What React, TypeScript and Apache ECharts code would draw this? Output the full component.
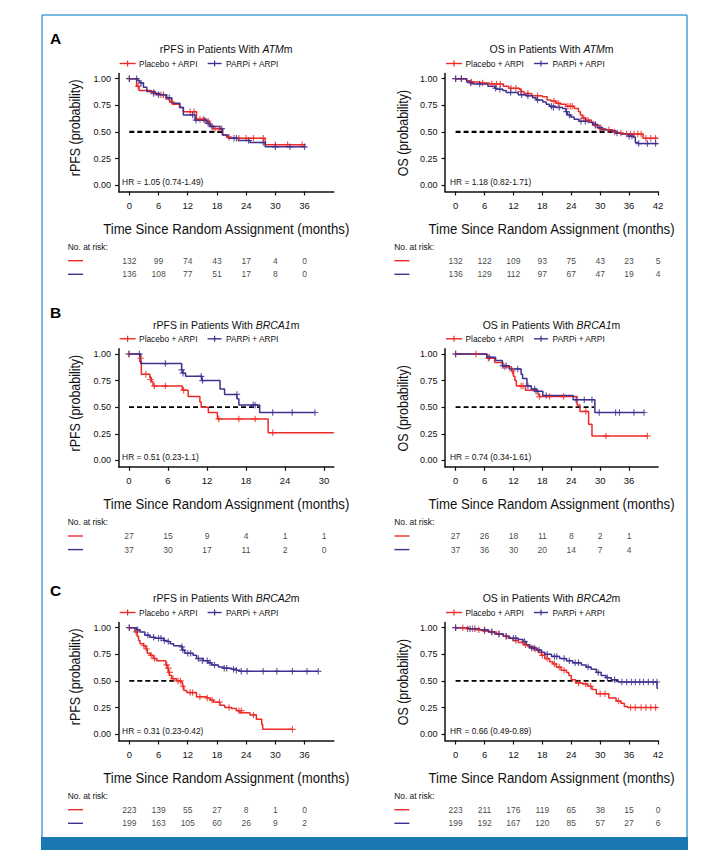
import React, { useEffect, useRef } from "react";
import * as echarts from "echarts";

// ---------------- DATA ----------------
// Panel A – rPFS, ATMm
const aRpfsPlaceboSteps = [[0,1],[1.5,0.93],[2,0.89],[4.5,0.87],[5.5,0.85],[7.5,0.81],[8.3,0.78],[9,0.76],[10.3,0.73],[11.1,0.69],[13.8,0.62],[15.8,0.6],[16.5,0.56],[17.2,0.53],[19.2,0.47],[20,0.45],[21,0.44],[27.9,0.38],[36.2,0.38]];
const aRpfsPlaceboCensor = [[0,1],[1.8,0.93],[5,0.87],[6.5,0.85],[8.8,0.78],[12.5,0.69],[13.3,0.69],[14.5,0.62],[15.2,0.62],[16.2,0.6],[17.6,0.53],[18.6,0.53],[20.5,0.45],[22.5,0.44],[24,0.44],[25.5,0.44],[27.5,0.44],[30,0.38],[32.5,0.38],[35.5,0.38]];
const aRpfsParpSteps = [[0,1],[1.8,0.98],[2.2,0.96],[2.9,0.92],[3.6,0.88],[5.3,0.86],[6.3,0.85],[7.7,0.82],[8.7,0.77],[10.4,0.73],[11.1,0.66],[13.5,0.61],[15.9,0.58],[16.6,0.55],[18.6,0.53],[19.1,0.47],[20.3,0.44],[22.4,0.42],[24.8,0.4],[27.9,0.36],[36.2,0.36]];
const aRpfsParpCensor = [[0,1],[1.5,1],[2.4,0.96],[5,0.86],[6,0.85],[7,0.85],[8.2,0.82],[13,0.66],[13.7,0.61],[15.5,0.61],[16.2,0.58],[17,0.55],[19,0.53],[21.5,0.44],[22,0.44],[24.5,0.42],[27.5,0.4],[30,0.36],[33,0.36],[36,0.36]];
const aRpfsMedian = [[0,0.5],[19.2,0.5]];
const aRpfsTicks = [0,6,12,18,24,30,36];
const aRpfsRiskPlacebo = [132,99,74,43,17,4,0];
const aRpfsRiskParp = [136,108,77,51,17,8,0];

// Panel A – OS, ATMm
const aOsPlaceboSteps = [[0,1],[2.3,0.98],[3,0.97],[5,0.96],[7,0.95],[9.9,0.93],[11,0.91],[13.2,0.9],[13.6,0.88],[14.2,0.86],[15.8,0.84],[18,0.83],[19,0.8],[19.8,0.79],[20.8,0.77],[21.8,0.76],[22.9,0.74],[24.6,0.72],[25.5,0.69],[25.9,0.66],[26.3,0.63],[27,0.61],[28.2,0.59],[28.7,0.56],[29.8,0.53],[31.2,0.52],[32.6,0.5],[33.7,0.49],[34.7,0.48],[38.9,0.44],[41.9,0.44]];
const aOsPlaceboCensor = [[0,1],[1.2,1],[3.3,0.97],[5.6,0.96],[7.5,0.95],[8.5,0.95],[9.3,0.95],[11.5,0.91],[12.5,0.91],[13.5,0.88],[15,0.86],[17,0.84],[20.4,0.79],[21.3,0.77],[23.3,0.74],[23.8,0.74],[24.2,0.74],[26.6,0.63],[27.5,0.61],[29,0.56],[30.3,0.53],[31.8,0.52],[33,0.5],[34.3,0.49],[35.5,0.48],[36.3,0.48],[37,0.48],[37.8,0.48],[38.5,0.48],[39.5,0.44],[40.5,0.44],[41.5,0.44]];
const aOsParpSteps = [[0,1],[2.3,0.97],[3,0.96],[3.6,0.95],[6.7,0.93],[8.1,0.91],[8.5,0.9],[9.8,0.89],[10.5,0.87],[13,0.85],[14.6,0.84],[16,0.82],[16.7,0.8],[18.1,0.78],[18.8,0.76],[19.5,0.74],[20.8,0.73],[22.2,0.72],[22.9,0.69],[23.2,0.66],[23.9,0.64],[24.6,0.62],[25.6,0.6],[27.7,0.59],[28.4,0.57],[29.4,0.54],[30.4,0.52],[31.8,0.51],[33.2,0.49],[34.2,0.48],[35.9,0.46],[36.9,0.45],[37.3,0.4],[37.8,0.39],[41.9,0.39]];
const aOsParpCensor = [[0,1],[1.2,1],[3.1,0.96],[5,0.95],[8.3,0.91],[9.2,0.9],[11.4,0.87],[13.7,0.85],[15,0.84],[17,0.8],[19.9,0.74],[20.3,0.73],[21.5,0.73],[23,0.69],[23.6,0.66],[26,0.6],[26.9,0.6],[29,0.57],[30,0.54],[33.5,0.49],[36,0.46],[36.6,0.46],[38,0.39],[39.8,0.39],[41.5,0.39]];
const aOsMedian = [[0,0.5],[32.9,0.5]];
const aOsTicks = [0,6,12,18,24,30,36,42];
const aOsRiskPlacebo = [132,122,109,93,75,43,23,5];
const aOsRiskParp = [136,129,112,97,67,47,19,4];

// Panel B – rPFS, BRCA1m
const bRpfsPlaceboSteps = [[0,1],[1.65,0.93],[1.9,0.81],[3.2,0.78],[3.45,0.74],[3.7,0.7],[8.2,0.66],[9.1,0.6],[10.9,0.55],[11.1,0.5],[12.2,0.45],[13.6,0.39],[21.4,0.26],[31.5,0.26]];
const bRpfsPlaceboCensor = [[0,1],[1.8,0.96],[2.6,0.81],[3.3,0.76],[3.9,0.7],[5.6,0.7],[8.4,0.66],[13.8,0.39],[16.9,0.39],[19.4,0.39],[22.1,0.26]];
const bRpfsParpSteps = [[0,1],[1.8,0.91],[8.1,0.85],[8.3,0.82],[8.7,0.79],[11.2,0.75],[14,0.67],[14.7,0.62],[16.6,0.58],[16.9,0.52],[20.1,0.45],[28.6,0.45]];
const bRpfsParpCensor = [[0,1],[1.6,1],[5.6,0.91],[8.1,0.85],[8.3,0.82],[11.1,0.79],[11.3,0.75],[16.6,0.62],[19.1,0.52],[19.4,0.52],[22.1,0.45],[25.1,0.45],[28.6,0.45]];
const bRpfsMedian = [[0,0.5],[20.1,0.5]];
const bRpfsTicks = [0,6,12,18,24,30];
const bRpfsRiskPlacebo = [27,15,9,4,1,1];
const bRpfsRiskParp = [37,30,17,11,2,0];

// Panel B – OS, BRCA1m
const bOsPlaceboSteps = [[0,1],[6.5,0.96],[8.1,0.92],[9.8,0.88],[11.6,0.84],[12,0.79],[12.3,0.75],[12.6,0.7],[14.5,0.66],[17.1,0.62],[17.4,0.6],[25.2,0.52],[25.8,0.46],[27.6,0.34],[28.3,0.23],[39.8,0.23]];
const bOsPlaceboCensor = [[0,1],[4.2,1],[6.8,0.96],[10.2,0.88],[11.8,0.84],[13.6,0.7],[14,0.7],[17.4,0.6],[19.5,0.6],[22.4,0.6],[27,0.46],[31.2,0.23],[39.8,0.23]];
const bOsParpSteps = [[0,1],[6.5,0.97],[8.3,0.94],[9.7,0.89],[11.1,0.86],[13.6,0.81],[13.9,0.77],[14.8,0.7],[15.7,0.67],[16.7,0.65],[18.1,0.61],[24.4,0.57],[28.9,0.45],[39.1,0.45]];
const bOsParpCensor = [[0,1],[7,0.97],[9.8,0.89],[10.5,0.89],[12.9,0.86],[15,0.7],[16.4,0.67],[16.7,0.65],[18.8,0.61],[25,0.57],[26.7,0.57],[28.3,0.57],[29.8,0.45],[33.2,0.45],[34,0.45],[37,0.45],[39.1,0.45]];
const bOsMedian = [[0,0.5],[28.8,0.5]];
const bOsTicks = [0,6,12,18,24,30,36];
const bOsRiskPlacebo = [27,26,18,11,8,2,1];
const bOsRiskParp = [37,36,30,20,14,7,4];

// Panel C – rPFS, BRCA2m
const cRpfsPlaceboSteps = [[0,1],[1.2,0.96],[1.6,0.92],[1.9,0.88],[2.2,0.85],[2.9,0.83],[3.4,0.8],[3.7,0.76],[4.3,0.74],[4.9,0.71],[5.6,0.69],[7.5,0.65],[7.8,0.62],[8,0.58],[8.2,0.55],[8.7,0.52],[9.7,0.5],[10.7,0.49],[10.9,0.45],[11.2,0.41],[11.8,0.39],[13.8,0.35],[15.9,0.34],[16.6,0.32],[17.3,0.3],[18.6,0.27],[19.6,0.25],[21,0.24],[22,0.22],[22.7,0.2],[24.8,0.18],[26.1,0.14],[27.2,0.09],[27.4,0.045],[33.5,0.045]];
const cRpfsPlaceboCensor = [[0,1],[1.4,0.96],[3,0.83],[3.6,0.8],[4.5,0.74],[5.2,0.71],[7.7,0.65],[8,0.62],[8.3,0.58],[9,0.52],[10,0.5],[10.5,0.5],[11,0.45],[12.5,0.39],[13,0.39],[14.5,0.35],[16,0.34],[17,0.32],[18.5,0.3],[20.5,0.25],[22.5,0.22],[23,0.22],[25.5,0.18],[33.5,0.045]];
const cRpfsParpSteps = [[0,1],[1.5,0.98],[2.2,0.96],[3.2,0.93],[4.2,0.91],[5.2,0.9],[7,0.88],[7.7,0.87],[8.4,0.85],[9.1,0.83],[10.7,0.82],[10.9,0.79],[11.4,0.76],[13.1,0.74],[13.8,0.71],[15.2,0.69],[16.2,0.67],[16.9,0.65],[18.3,0.63],[19.3,0.62],[21,0.61],[22,0.6],[22.7,0.59],[38.8,0.59]];
const cRpfsParpCensor = [[0,1],[1.7,0.98],[3.8,0.93],[5,0.91],[6,0.9],[6.5,0.9],[7.2,0.88],[8,0.87],[10.8,0.82],[11,0.79],[12,0.76],[12.6,0.76],[14.2,0.71],[15,0.69],[16,0.69],[16.6,0.67],[17.5,0.65],[19.5,0.62],[20,0.62],[21.4,0.61],[22,0.6],[23,0.59],[24.2,0.59],[27.5,0.59],[30.3,0.59],[33.5,0.59],[36.5,0.59],[38.8,0.59]];
const cRpfsMedian = [[0,0.5],[9.7,0.5]];
const cRpfsTicks = [0,6,12,18,24,30,36];
const cRpfsRiskPlacebo = [223,139,55,27,8,1,0];
const cRpfsRiskParp = [199,163,105,60,26,9,2];

// Panel C – OS, BRCA2m
const cOsPlaceboSteps = [[0,1],[2.3,0.99],[4.3,0.98],[5.7,0.97],[7.1,0.96],[8.5,0.94],[9.9,0.92],[10.9,0.9],[11.9,0.88],[13,0.86],[14,0.84],[15,0.82],[16.1,0.8],[17.1,0.77],[17.8,0.74],[18.5,0.71],[19.5,0.68],[20.2,0.66],[20.9,0.63],[21.9,0.6],[23,0.58],[23.5,0.55],[24,0.51],[24.9,0.48],[26.4,0.47],[27.4,0.45],[28.3,0.42],[29.2,0.38],[31.8,0.34],[33.3,0.31],[34.3,0.29],[35,0.26],[35.7,0.25],[42,0.25]];
const cOsPlaceboCensor = [[0,1],[1.5,1],[2.5,0.99],[3.5,0.99],[4.8,0.98],[6,0.97],[7.5,0.96],[9,0.94],[10.5,0.92],[12.5,0.88],[14.5,0.84],[16.5,0.8],[18,0.74],[19,0.71],[20.5,0.66],[21.5,0.63],[22.5,0.6],[25.5,0.48],[27,0.47],[28,0.45],[30,0.38],[31,0.38],[33.8,0.31],[36.3,0.25],[37.3,0.25],[38.5,0.25],[39.5,0.25],[40.5,0.25],[41.5,0.25]];
const cOsParpSteps = [[0,1],[2.7,0.99],[5,0.98],[6.8,0.96],[8.1,0.94],[9.9,0.92],[11.2,0.9],[13,0.89],[14,0.87],[14.7,0.84],[15.4,0.81],[16.8,0.79],[17.8,0.77],[18.5,0.75],[19.9,0.73],[21.6,0.71],[23,0.69],[24.3,0.67],[26.1,0.65],[27.1,0.63],[28.1,0.61],[29.2,0.58],[30.2,0.55],[31.2,0.53],[32.3,0.51],[33.7,0.49],[41.8,0.43],[42,0.43]];
const cOsParpCensor = [[0,1],[3,0.99],[4,0.99],[6,0.98],[7.5,0.96],[9,0.94],[10.5,0.92],[12,0.9],[12.5,0.9],[14.3,0.87],[15.8,0.81],[16.3,0.81],[17.3,0.79],[19,0.75],[20.5,0.73],[21,0.73],[22.5,0.71],[23.6,0.69],[24.8,0.67],[25.5,0.67],[27.5,0.63],[29.6,0.58],[31.5,0.53],[33,0.51],[34.5,0.49],[35.5,0.49],[36.5,0.49],[37.3,0.49],[38.2,0.49],[39,0.49],[40,0.49],[41,0.49],[41.8,0.49]];
const cOsMedian = [[0,0.5],[33.7,0.5]];
const cOsTicks = [0,6,12,18,24,30,36,42];
const cOsRiskPlacebo = [223,211,176,119,65,38,15,0];
const cOsRiskParp = [199,192,167,120,85,57,27,6];

const yTicks = [0, 0.25, 0.5, 0.75, 1];
const legendNames = ["Placebo + ARPI", "PARPi + ARPI"];
const panelLetters = ["A", "B", "C"];
const xAxisTitle = "Time Since Random Assignment (months)";

// ---------------- STYLE / LAYOUT ----------------
const RED = "#ee2a27";
const BLUE = "#3f3190";
const INK = "#111111";
const SANS = "'Liberation Sans', Arial, Helvetica, sans-serif";
const PLUS = "path://M0,4.1H10V5.9H0Z M4.1,0H5.9V10H4.1Z";

const ROW_Y1 = [78.7, 354, 627.7]; // pixel y of survival 1.00
const LETTER_Y = [38.7, 312.5, 590];
const COL_LEFT = [118.6, 445];
const COL_WIDTH = [215.2, 213];
const YNAME_X = [75, 403.3];
const MEDIAN_W = [2.1, 1.7, 1.6];
const UNIT = 106.4;
const Y_MIN = -0.06;
const Y_MAX = 1.05;

const panels = [
  { row: 0, col: 0, pre: "rPFS in Patients With ", ital: "ATM", post: "m", yName: "rPFS (probability)", hr: "HR = 1.05 (0.74-1.49)", xMin: -2.2, xMax: 42, ticks: aRpfsTicks, pS: aRpfsPlaceboSteps, pC: aRpfsPlaceboCensor, qS: aRpfsParpSteps, qC: aRpfsParpCensor, med: aRpfsMedian, rP: aRpfsRiskPlacebo, rQ: aRpfsRiskParp },
  { row: 0, col: 1, pre: "OS in Patients With ", ital: "ATM", post: "m", yName: "OS (probability)", hr: "HR = 1.18 (0.82-1.71)", xMin: -2.2, xMax: 42, ticks: aOsTicks, pS: aOsPlaceboSteps, pC: aOsPlaceboCensor, qS: aOsParpSteps, qC: aOsParpCensor, med: aOsMedian, rP: aOsRiskPlacebo, rQ: aOsRiskParp },
  { row: 1, col: 0, pre: "rPFS in Patients With ", ital: "BRCA1", post: "m", yName: "rPFS (probability)", hr: "HR = 0.51 (0.23-1.1)", xMin: -1.6, xMax: 31.5, ticks: bRpfsTicks, pS: bRpfsPlaceboSteps, pC: bRpfsPlaceboCensor, qS: bRpfsParpSteps, qC: bRpfsParpCensor, med: bRpfsMedian, rP: bRpfsRiskPlacebo, rQ: bRpfsRiskParp },
  { row: 1, col: 1, pre: "OS in Patients With ", ital: "BRCA1", post: "m", yName: "OS (probability)", hr: "HR = 0.74 (0.34-1.61)", xMin: -2.2, xMax: 42, ticks: bOsTicks, pS: bOsPlaceboSteps, pC: bOsPlaceboCensor, qS: bOsParpSteps, qC: bOsParpCensor, med: bOsMedian, rP: bOsRiskPlacebo, rQ: bOsRiskParp },
  { row: 2, col: 0, pre: "rPFS in Patients With ", ital: "BRCA2", post: "m", yName: "rPFS (probability)", hr: "HR = 0.31 (0.23-0.42)", xMin: -2.2, xMax: 42, ticks: cRpfsTicks, pS: cRpfsPlaceboSteps, pC: cRpfsPlaceboCensor, qS: cRpfsParpSteps, qC: cRpfsParpCensor, med: cRpfsMedian, rP: cRpfsRiskPlacebo, rQ: cRpfsRiskParp },
  { row: 2, col: 1, pre: "OS in Patients With ", ital: "BRCA2", post: "m", yName: "OS (probability)", hr: "HR = 0.66 (0.49-0.89)", xMin: -2.2, xMax: 42, ticks: cOsTicks, pS: cOsPlaceboSteps, pC: cOsPlaceboCensor, qS: cOsParpSteps, qC: cOsParpCensor, med: cOsMedian, rP: cOsRiskPlacebo, rQ: cOsRiskParp },
];

function txt(x: number, y: number, text: string, size: number, extra: any = {}, el: any = {}) {
  return {
    type: "text",
    x,
    y,
    silent: true,
    ...el,
    style: { text, fontSize: size, fontFamily: SANS, fill: INK, align: "left", verticalAlign: "middle", ...extra },
  };
}

function lineEl(x1: number, y1: number, x2: number, y2: number, color: string, w: number) {
  return { type: "line", silent: true, shape: { x1, y1, x2, y2 }, style: { stroke: color, lineWidth: w } };
}

function buildOption() {
  const grid: any[] = [];
  const xAxis: any[] = [];
  const yAxis: any[] = [];
  const series: any[] = [];
  const graphic: any[] = [];

  // frame
  const BORDER = "#4d9fd6";
  graphic.push(lineEl(42, 15, 687, 15, BORDER, 1.5));
  graphic.push(lineEl(42, 15, 42, 837, BORDER, 1.5));
  graphic.push(lineEl(687, 15, 687, 837, BORDER, 1.5));
  graphic.push({ type: "rect", silent: true, shape: { x: 41, y: 837, width: 647, height: 13 }, style: { fill: "#1a79b3" } });

  ROW_Y1.forEach((_, r) => {
    graphic.push(txt(50, LETTER_Y[r], panelLetters[r], 15.5, { fontWeight: "bold", fill: "#000" }));
  });

  panels.forEach((p, i) => {
    const Y1 = ROW_Y1[p.row];
    const gl = COL_LEFT[p.col];
    const gw = COL_WIDTH[p.col];
    const top = Y1 - (Y_MAX - 1) * UNIT;
    const h = (Y_MAX - Y_MIN) * UNIT;
    const gi = 2 * i;

    grid.push({ left: gl, top, width: gw, height: h, containLabel: false });
    grid.push({ left: gl, top: Y1 + 182, width: gw, height: 13.6, containLabel: false });

    xAxis.push({
      type: "value", gridIndex: gi, min: p.xMin, max: p.xMax,
      axisLine: { show: true, onZero: false, lineStyle: { color: INK, width: 1.5 } },
      axisTick: { show: true, length: 4, customValues: p.ticks, lineStyle: { color: INK, width: 1.2 } },
      axisLabel: { customValues: p.ticks, fontSize: 9.5, color: INK, margin: 9, fontFamily: SANS },
      splitLine: { show: false },
    });
    xAxis.push({ type: "value", gridIndex: gi + 1, min: p.xMin, max: p.xMax, show: false });

    yAxis.push({
      type: "value", gridIndex: gi, min: Y_MIN, max: Y_MAX,
      axisLine: { show: true, onZero: false, lineStyle: { color: INK, width: 1.5 } },
      axisTick: { show: true, length: 3.5, customValues: yTicks, lineStyle: { color: INK, width: 1.2 } },
      axisLabel: { customValues: yTicks, fontSize: 9, color: INK, margin: 7.5, fontFamily: SANS, formatter: (v: number) => v.toFixed(2) },
      splitLine: { show: false },
    });
    yAxis.push({ type: "value", gridIndex: gi + 1, min: 0, max: 1, show: false });

    // median dashed line
    series.push({
      type: "line", xAxisIndex: gi, yAxisIndex: gi, data: p.med, symbol: "none", z: 2, silent: true,
      lineStyle: { color: "#000", width: MEDIAN_W[p.row], type: [5, 3] },
    });
    // KM curves
    series.push({
      name: legendNames[0], type: "line", xAxisIndex: gi, yAxisIndex: gi, data: p.pS, step: "end", symbol: "none", z: 3, silent: true,
      lineStyle: { color: RED, width: 1.5 },
    });
    series.push({
      name: legendNames[1], type: "line", xAxisIndex: gi, yAxisIndex: gi, data: p.qS, step: "end", symbol: "none", z: 3, silent: true,
      lineStyle: { color: BLUE, width: 1.5 },
    });
    series.push({
      type: "scatter", xAxisIndex: gi, yAxisIndex: gi, data: p.pC, symbol: PLUS, symbolSize: 6.5, z: 4, silent: true,
      itemStyle: { color: RED },
    });
    series.push({
      type: "scatter", xAxisIndex: gi, yAxisIndex: gi, data: p.qC, symbol: PLUS, symbolSize: 6.5, z: 4, silent: true,
      itemStyle: { color: BLUE },
    });
    // risk table
    const riskData = p.ticks.map((t, k) => [t, 1, p.rP[k]]).concat(p.ticks.map((t, k) => [t, 0, p.rQ[k]]));
    series.push({
      type: "scatter", xAxisIndex: gi + 1, yAxisIndex: gi + 1, data: riskData, symbolSize: 1, silent: true,
      itemStyle: { color: "rgba(0,0,0,0)" },
      label: { show: true, position: "inside", formatter: (q: any) => String(q.value[2]), fontSize: 8.5, color: INK, fontFamily: SANS },
    });

    // title
    const cx = gl + gw / 2;
    graphic.push({
      type: "text", x: cx, y: Y1 - 29.4, silent: true,
      style: {
        text: `{n|${p.pre}}{i|${p.ital}}{n|${p.post}}`,
        rich: {
          n: { fontSize: 10.5, fontFamily: SANS, fill: INK },
          i: { fontSize: 10.5, fontFamily: SANS, fontStyle: "italic", fill: INK },
        },
        fontSize: 10.5, fontFamily: SANS, fill: INK, align: "center", verticalAlign: "middle",
      },
    });
    // axis names (condensed look via horizontal scale)
    graphic.push(txt(cx, Y1 + 149.6, xAxisTitle, 15.5, { align: "center" }, { scaleX: 0.85 }));
    graphic.push(txt(YNAME_X[p.col], Y1 + 97.5, p.yName, 15, { align: "left" }, { rotation: Math.PI / 2, scaleX: 0.83 }));
    // legend
    const ly = Y1 - 15.2;
    graphic.push(lineEl(gl + 1, ly, gl + 17, ly, RED, 1.4));
    graphic.push(lineEl(gl + 9, ly - 3, gl + 9, ly + 3, RED, 1.2));
    graphic.push(txt(gl + 20.5, ly, legendNames[0], 8.3));
    graphic.push(lineEl(gl + 89, ly, gl + 103, ly, BLUE, 1.4));
    graphic.push(lineEl(gl + 96, ly - 3, gl + 96, ly + 3, BLUE, 1.2));
    graphic.push(txt(gl + 107.5, ly, legendNames[1], 8.3));
    // HR
    graphic.push(txt(gl + (p.col === 0 ? 3.5 : 5), Y1 + 103, p.hr, 8.4));
    // risk header + markers
    graphic.push(txt(gl - 50.8, Y1 + 168.3, "No. at risk:", 8.4));
    graphic.push(lineEl(gl - 50.6, Y1 + 182, gl - 35.6, Y1 + 182, RED, 1.4));
    graphic.push(lineEl(gl - 50.6, Y1 + 195.6, gl - 35.6, Y1 + 195.6, BLUE, 1.4));
  });

  return {
    animation: false,
    backgroundColor: "#ffffff",
    textStyle: { fontFamily: SANS },
    grid,
    xAxis,
    yAxis,
    series,
    graphic,
  };
}

export default function App() {
  const ref = useRef<HTMLDivElement>(null);
  useEffect(() => {
    const chart = echarts.init(ref.current as HTMLDivElement, null, { renderer: "svg" });
    chart.setOption(buildOption() as any);
    return () => chart.dispose();
  }, []);
  return (
    <div
      ref={ref}
      style={{ position: "absolute", left: 0, top: 0, width: 719, height: 862, background: "#fff" }}
    />
  );
}
